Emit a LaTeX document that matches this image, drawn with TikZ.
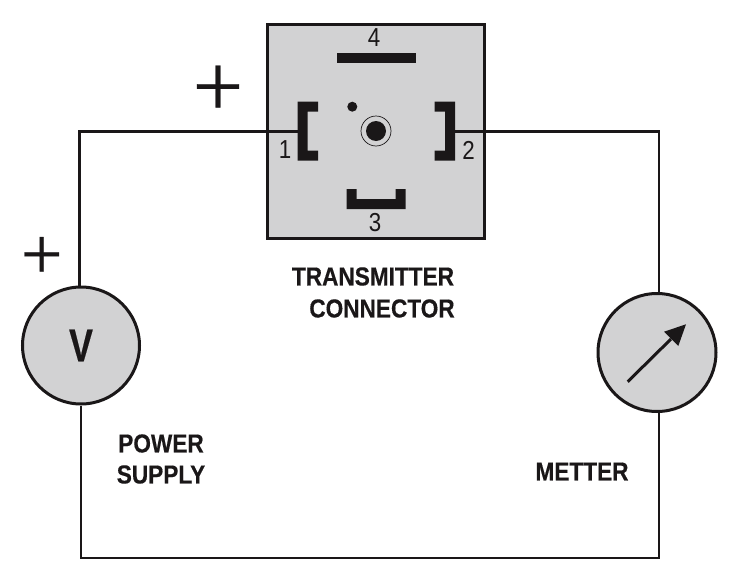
\documentclass[tikz,border=0pt]{standalone}
\usepackage{fontspec}
\setmainfont[BoldFeatures={FakeBold=0.4}]{Liberation Sans}
\newfontfamily\plusfont[FakeBold=0.35]{Liberation Serif}
\definecolor{panel}{HTML}{D2D2D3}
\definecolor{ink}{HTML}{1A1718}
\tikzset{
  wire/.style={draw=ink,line width=2.8pt},
  comp/.style={circle,draw=ink,line width=3pt,fill=panel,inner sep=0pt},
  pinshape/.style={fill=ink,draw=none},
  caption/.style={inner sep=0pt,text=ink,font=\fontsize{26}{28}\selectfont\bfseries,xscale=0.87},
  pinno/.style={inner sep=0pt,text=ink,font=\fontsize{26}{28}\selectfont,xscale=0.86},
  bigplus/.style={inner sep=0pt,text=ink,font=\plusfont\fontsize{90}{90}\selectfont},
  smallplus/.style={inner sep=0pt,text=ink,font=\plusfont\fontsize{74}{74}\selectfont}
}
\begin{document}
\begin{tikzpicture}[x=1pt,y=-1pt]
\useasboundingbox (0,0) rectangle (732,573);
\node[draw=ink,line width=3pt,fill=panel,minimum width=217pt,minimum height=214pt,inner sep=0pt] (conn) at (376,131) {};
\node[comp,minimum size=117pt,font=\fontsize{46}{46}\selectfont\bfseries,text=ink] (psu) at (81,345.5) {\scalebox{0.78}[1]{V}};
\node[comp,minimum size=118pt] (meter) at (657,352.5) {};
% pins
\fill[pinshape] (297.5,101.5) -| (318,111.5) -| (307.5,150.5) -| (318,160.5) -| (297.5,101.5) -- cycle;
\fill[pinshape] (455,101.5) -| (434.5,111.5) -| (445,150.5) -| (434.5,160.5) -| (455,101.5) -- cycle;
\fill[pinshape] (346.5,189) -- (356.5,189) -- (356.5,199) -- (395.5,199) -- (395.5,189) -- (405.5,189) -- (405.5,209) -- (346.5,209) -- cycle;
\fill[pinshape] (336.5,53) rectangle (416,63);
\fill[ink] (352.3,106.7) circle (5);
\fill[ink] (376,131) circle (10);
\draw[ink,line width=0.7pt] (376,131) circle (15);
\coordinate (pin1) at (297.5,131.5);
\coordinate (pin2) at (455,131.5);
\coordinate (tl) at (79.5,131.5);
\coordinate (tr) at (659,131.5);
\coordinate (bl) at (81,558);
\coordinate (br) at (659,558);
\draw[wire] (pin1) -- (tl) -- (tl |- psu.north);
\draw[wire] (pin2) -- (tr) -- (tr |- meter.north);
\draw[wire] (psu.south) -- (bl) -- (br) -- (br |- meter.south);
% needle
\coordinate (needlea) at (627.7,381.7);
\coordinate (needleb) at (671,339);
\draw[ink,line width=3pt] (needlea) -- (needleb);
\fill[ink] (686,324.3) -- (664,331.7) -- (678.3,346) -- cycle;
% labels
\node[pinno] (n1) at (285,150) {1};
\node[pinno] (n2) at (468.5,150) {2};
\node[pinno] (n3) at (375,223) {3};
\node[pinno] (n4) at (374,38) {4};
\node[bigplus] (p1) at (218,91) {+};
\node[smallplus] (p2) at (41.7,258) {+};
\node[caption] (t1) at (373,276.5) {TRANSMITTER};
\node[caption] (t2) at (382,308.5) {CONNECTOR};
\node[caption] (t3) at (161,443.5) {POWER};
\node[caption] (t4) at (161,474.5) {SUPPLY};
\node[caption] (t5) at (582,471.5) {METTER};
\end{tikzpicture}
\end{document}
